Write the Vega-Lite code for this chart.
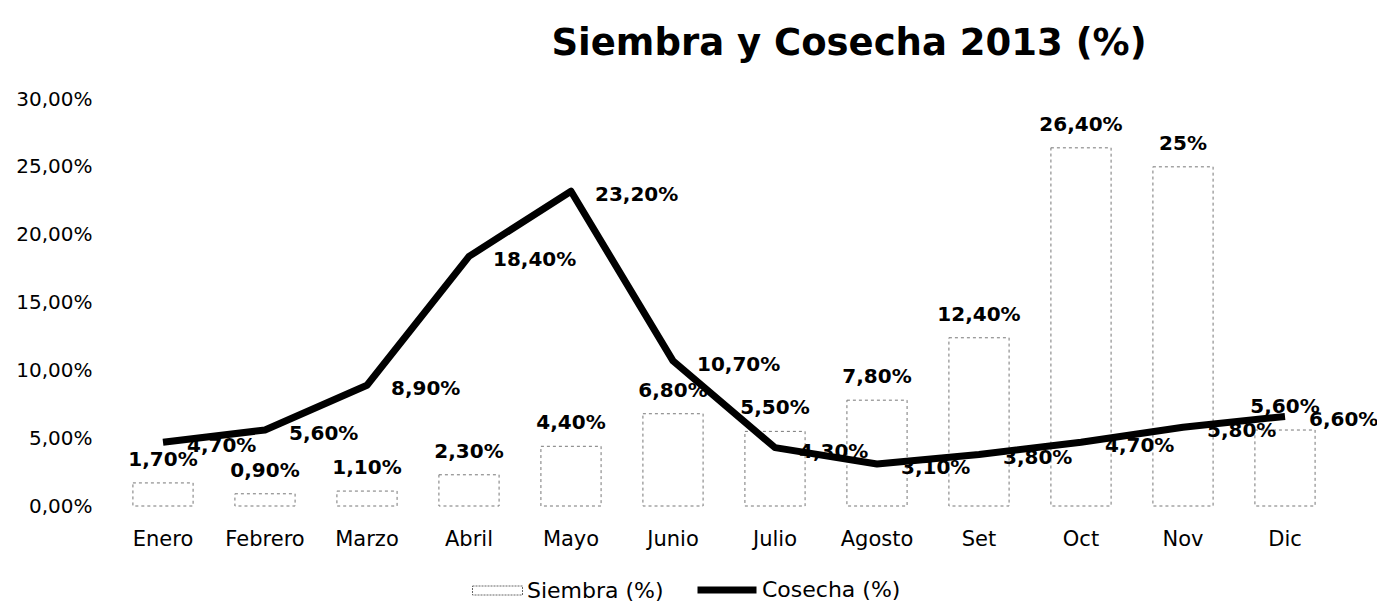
{
  "$schema": "https://vega.github.io/schema/vega-lite/v6.json",
  "autosize": "none",
  "width": 1224,
  "height": 407,
  "padding": {"left": 112, "top": 99, "right": 41, "bottom": 96},
  "config": {
    "locale": {"number": {"decimal": ",", "thousands": ".", "grouping": [3], "currency": ["", " €"]}},
    "font": "DejaVu Sans",
    "view": {"stroke": null}
  },
  "title": {"text": "Siembra y Cosecha 2013 (%)", "fontSize": 37, "fontWeight": "bold", "font": "DejaVu Sans", "color": "#000", "anchor": "middle", "dx": 125, "offset": 26},
  "data": {"values": [
    {"mes": "Enero", "siembra": 0.017, "cosecha": 0.047, "s_label": "1,70%", "c_label": "4,70%"},
    {"mes": "Febrero", "siembra": 0.009, "cosecha": 0.056, "s_label": "0,90%", "c_label": "5,60%"},
    {"mes": "Marzo", "siembra": 0.011, "cosecha": 0.089, "s_label": "1,10%", "c_label": "8,90%"},
    {"mes": "Abril", "siembra": 0.023, "cosecha": 0.184, "s_label": "2,30%", "c_label": "18,40%"},
    {"mes": "Mayo", "siembra": 0.044, "cosecha": 0.232, "s_label": "4,40%", "c_label": "23,20%"},
    {"mes": "Junio", "siembra": 0.068, "cosecha": 0.107, "s_label": "6,80%", "c_label": "10,70%"},
    {"mes": "Julio", "siembra": 0.055, "cosecha": 0.043, "s_label": "5,50%", "c_label": "4,30%"},
    {"mes": "Agosto", "siembra": 0.078, "cosecha": 0.031, "s_label": "7,80%", "c_label": "3,10%"},
    {"mes": "Set", "siembra": 0.124, "cosecha": 0.038, "s_label": "12,40%", "c_label": "3,80%"},
    {"mes": "Oct", "siembra": 0.264, "cosecha": 0.047, "s_label": "26,40%", "c_label": "4,70%"},
    {"mes": "Nov", "siembra": 0.25, "cosecha": 0.058, "s_label": "25%", "c_label": "5,80%"},
    {"mes": "Dic", "siembra": 0.056, "cosecha": 0.066, "s_label": "5,60%", "c_label": "6,60%"}
  ]},
  "encoding": {
    "x": {"field": "mes", "type": "nominal", "sort": null,
      "scale": {"paddingInner": 0.41, "paddingOuter": 0.205},
      "axis": {"title": null, "domain": false, "ticks": false, "labelAngle": 0, "labelFontSize": 21, "labelColor": "#000", "labelPadding": 22, "labelFont": "DejaVu Sans"}}
  },
  "layer": [
    {
      "mark": {"type": "bar", "stroke": "#777", "strokeWidth": 1, "strokeDash": [3, 3]},
      "encoding": {
        "y": {"field": "siembra", "type": "quantitative", "scale": {"domain": [0, 0.3]},
          "axis": {"title": null, "format": ".2%", "values": [0, 0.05, 0.1, 0.15, 0.2, 0.25, 0.3], "grid": false, "domain": false, "ticks": false, "labelFontSize": 20, "labelColor": "#000", "labelPadding": 20, "labelFont": "DejaVu Sans"}},
        "fill": {"datum": "Siembra (%)", "type": "nominal", "scale": {"range": ["#ffffff"]},
          "legend": {"title": null, "orient": "none", "legendX": 360, "legendY": 466, "labelFontSize": 22, "labelColor": "#000", "labelFont": "DejaVu Sans", "labelOffset": 4,
            "symbolType": "M-1,-0.18H1V0.18H-1Z", "symbolSize": 2500, "symbolStrokeColor": "#666", "symbolStrokeWidth": 1, "symbolDash": [2, 1]}}
      }
    },
    {
      "mark": {"type": "text", "fontSize": 20, "fontWeight": "bold", "baseline": "alphabetic", "dy": -17, "color": "#000"},
      "encoding": {
        "y": {"field": "siembra", "type": "quantitative"},
        "text": {"field": "s_label"}
      }
    },
    {
      "mark": {"type": "line", "strokeWidth": 7, "strokeJoin": "round"},
      "encoding": {
        "y": {"field": "cosecha", "type": "quantitative"},
        "stroke": {"datum": "Cosecha (%)", "type": "nominal", "scale": {"range": ["#000000"]},
          "legend": {"title": null, "orient": "none", "legendX": 582, "legendY": 458, "labelFontSize": 22, "labelColor": "#000", "labelFont": "DejaVu Sans", "labelOffset": 2,
            "symbolType": "stroke", "symbolSize": 3481, "symbolStrokeWidth": 7}}
      }
    },
    {
      "mark": {"type": "text", "fontSize": 20, "fontWeight": "bold", "align": "left", "baseline": "middle", "dx": 24, "dy": 4, "color": "#000"},
      "encoding": {
        "y": {"field": "cosecha", "type": "quantitative"},
        "text": {"field": "c_label"}
      }
    }
  ]
}
